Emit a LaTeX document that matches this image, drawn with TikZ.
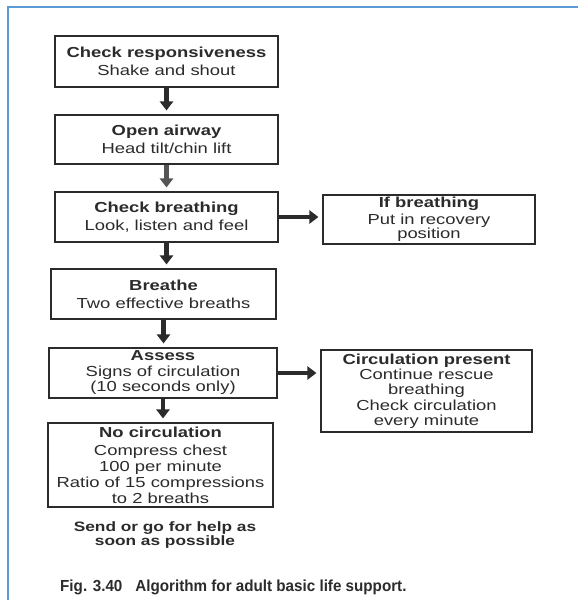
\documentclass[tikz,border=0pt]{standalone}
\usepackage{fontspec}
\setmainfont[FakeStretch=1.27]{Liberation Sans}
\newfontfamily\capfont[FakeStretch=0.95]{Liberation Sans}
\usetikzlibrary{arrows.meta}
\definecolor{ink}{HTML}{2B2B2B}
\definecolor{inklight}{HTML}{555555}
\definecolor{frameblue}{HTML}{5B9BD5}
\begin{document}
\begin{tikzpicture}[x=1pt,y=-1pt,
  box/.style={draw=ink, line width=1.1pt, text=ink, align=center, inner sep=0pt,
              font=\fontsize{14.5}{16}\selectfont},
  arr/.style={draw=ink, line width=4.5pt, -{Triangle[width=13pt,length=9pt]}, shorten >=4pt},
  arrfaint/.style={arr, draw=inklight},
  note/.style={text=ink, align=center, font=\bfseries\fontsize{13.6}{14}\selectfont},
]
\useasboundingbox (0,0) rectangle (578,600);
\fill[white] (0,0) rectangle (578,600);
\draw[frameblue, line width=2pt] (8,600) -- (8,7) -- (578,7);

\node[box, minimum width=223pt, minimum height=51pt] (b1) at (166.5,61.5)
  {\textbf{Check responsiveness}\\[2pt]Shake and shout};
\node[box, minimum width=223pt, minimum height=49pt] (b2) at (166.5,139.5)
  {\textbf{Open airway}\\[2pt]Head tilt/chin lift};
\node[box, minimum width=223pt, minimum height=50pt] (b3) at (166.5,217)
  {\textbf{Check breathing}\\[2pt]Look, listen and feel};
\node[box, minimum width=212pt, minimum height=49pt, font=\fontsize{14.5}{14}\selectfont] (b4) at (429,219.5)
  {\textbf{If breathing}\\[3pt]Put in recovery\\position};
\node[box, minimum width=225pt, minimum height=50pt] (b5) at (163.5,294)
  {\textbf{Breathe}\\[2pt]Two effective breaths};
\node[box, minimum width=228pt, minimum height=50pt, font=\fontsize{14.5}{15.5}\selectfont] (b6) at (163,373)
  {\textbf{Assess}\\Signs of circulation\\(10 seconds only)};
\node[box, minimum width=211pt, minimum height=82pt, font=\fontsize{14.5}{15.3}\selectfont] (b7) at (426.5,391)
  {\textbf{Circulation present}\\Continue rescue\\breathing\\Check circulation\\every minute};
\node[box, minimum width=225pt, minimum height=84pt] (b8) at (160.5,465)
  {\textbf{No circulation}\\[2pt]Compress chest\\100 per minute\\Ratio of 15 compressions\\to 2 breaths};

\node[note] (help) at (165,535) {Send or go for help as\\soon as possible};
\node[anchor=base west, text=ink, inner sep=0pt] (cap) at (60,591)
  {\capfont\bfseries\fontsize{16}{18}\selectfont Fig. 3.40\hspace{13pt}Algorithm for adult basic life support.};

\draw[arr] (b1.south) -- (b1.south |- b2.north);
\draw[arrfaint] (b2.south) -- (b2.south |- b3.north);
\draw[arr] (b3.south) -- (b3.south |- b5.north);
\draw[arr] (b3.east) -- (b3.east -| b4.west);
\draw[arr] (b5.south) -- (b5.south |- b6.north);
\draw[arr] (b6.east) -- (b6.east -| b7.west);
\draw[arr] (b6.south) -- (b6.south |- b8.north);
\end{tikzpicture}
\end{document}
